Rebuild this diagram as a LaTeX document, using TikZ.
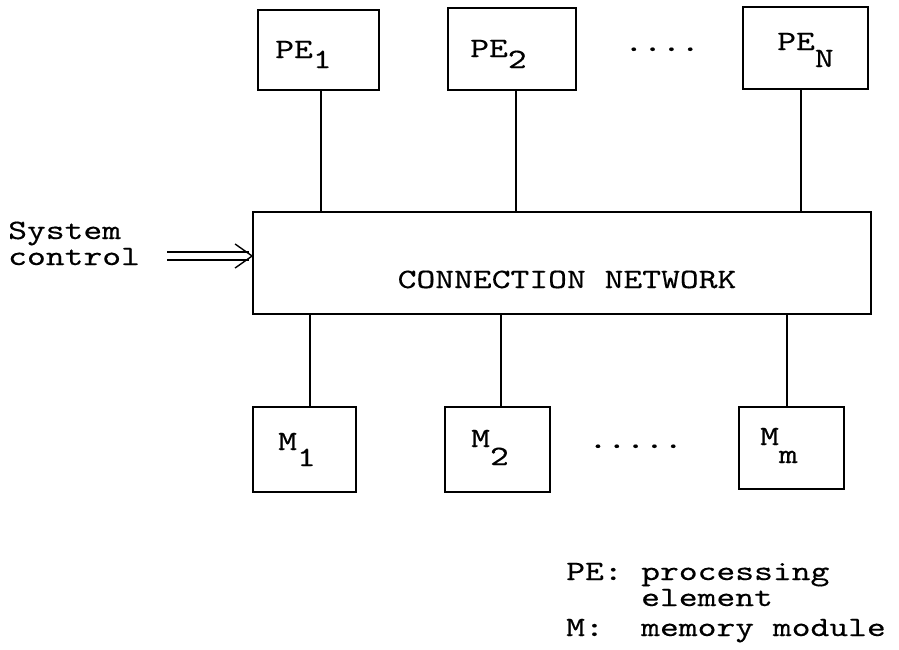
\documentclass[tikz,border=0pt]{standalone}
\usepackage{fontspec}
\newfontfamily\tyfont[FakeStretch=1.28,FakeBold=0.35]{lmmono10-regular.otf}
\usetikzlibrary{calc}
\newcommand\tw{\tyfont\fontsize{28}{34}\selectfont}
\tikzset{
  box/.style={draw, line width=1.8pt, inner sep=0pt},
  conn/.style={line width=1.5pt},
  lbl/.style={inner sep=0pt, anchor=base west, font=\tw},
  clbl/.style={inner sep=0pt, anchor=base, font=\tw}
}
\begin{document}
\begin{tikzpicture}[x=1pt, y=-1pt]
\useasboundingbox (0,0) rectangle (899,649);
% boxes
\node[box, minimum width=121, minimum height=80] (pe1) at (318.5,50) {};
\node[box, minimum width=128, minimum height=82] (pe2) at (512,49) {};
\node[box, minimum width=125, minimum height=82] (peN) at (805.5,48) {};
\node[box, minimum width=618, minimum height=102] (net) at (562,263) {};
\node[box, minimum width=103, minimum height=85] (m1) at (304.5,449.5) {};
\node[box, minimum width=105, minimum height=85] (m2) at (497.5,449.5) {};
\node[box, minimum width=105, minimum height=82] (mm) at (791.5,448) {};
% texts
\node[lbl] (t1) at (275,58) {PE\lower10pt\hbox{1}};
\node[lbl] (t2) at (470,57) {PE\lower11pt\hbox{2}};
\node[lbl] (tN) at (777,50) {PE\lower17pt\hbox{N}};
\node[lbl] (tm1) at (278,450) {M\lower16pt\hbox{1}};
\node[lbl] (tm2) at (471,447) {M\lower18pt\hbox{2}};
\node[lbl] (tmm) at (760,445) {M\lower18pt\hbox{m}};
\node[clbl] (tnet) at (567,288) {CONNECTION NETWORK};
\node[clbl] (dtop) at (662,51) {....};
\node[clbl] (dbot) at (635.6,448) {.....};
\node[lbl] (sys) at (8,239) {System};
\node[lbl] (ctl) at (8,265) {control};
\node[lbl] (lpe) at (566,580) {PE:};
\node[lbl] (lpe2) at (641,580) {processing};
\node[lbl] (lpe3) at (641,606) {element};
\node[lbl] (lm) at (566,636) {M:};
\node[lbl] (lm2) at (641,636) {memory module};
% connectors
\draw[conn] ($(pe1.south)+(2.5,0)$) -- ($(pe1.south |- net.north)+(2.5,0)$);
\draw[conn] ($(pe2.south)+(4,0)$) -- ($(pe2.south |- net.north)+(4,0)$);
\draw[conn] ($(peN.south)+(-4.5,0)$) -- ($(peN.south |- net.north)+(-4.5,0)$);
\draw[conn] ($(m1.north |- net.south)+(5.5,0)$) -- ($(m1.north)+(5.5,0)$);
\draw[conn] ($(m2.north |- net.south)+(3.5,0)$) -- ($(m2.north)+(3.5,0)$);
\draw[conn] ($(mm.north |- net.south)+(-4.5,0)$) -- ($(mm.north)+(-4.5,0)$);
% system control arrow
\coordinate (sc) at (167,256);
\coordinate (tip) at (sc -| net.west);
\draw[line width=1.3pt, double distance=6.7pt] (sc) -- ($(tip)+(-3,0)$);
\draw[line width=1.4pt, line join=miter] ($(tip)+(-17,-12)$) -- (tip) -- ($(tip)+(-17,12)$);
\end{tikzpicture}
\end{document}
